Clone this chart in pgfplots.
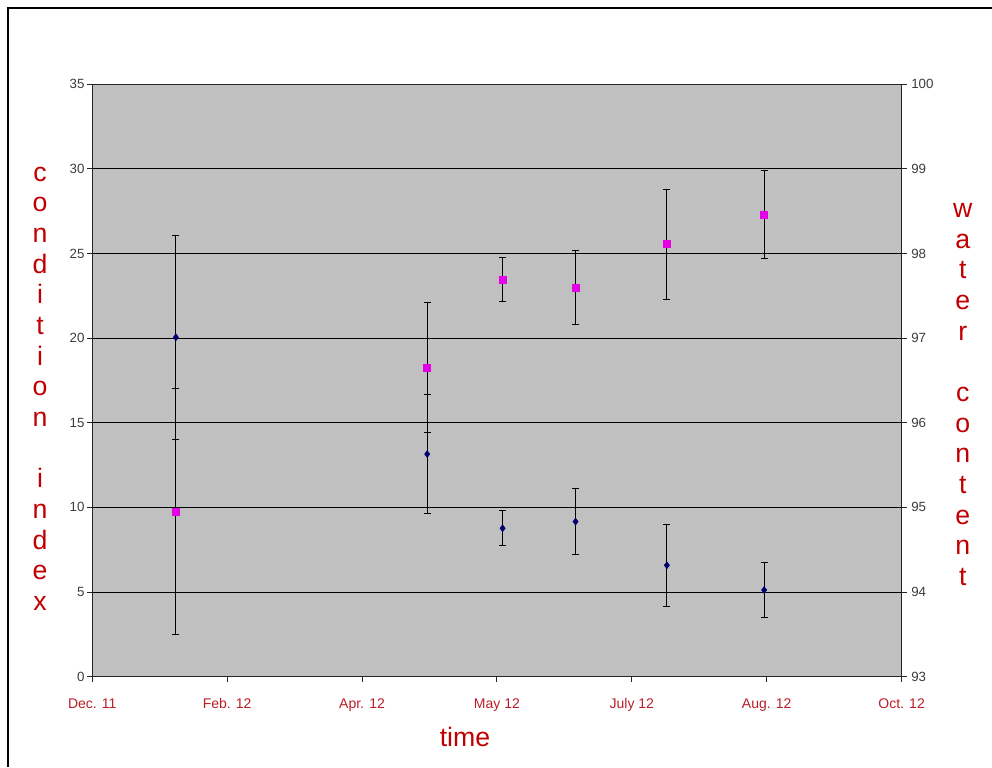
\documentclass[border=0pt]{standalone}
\usepackage{pgfplots}
\usepackage{pgfplotstable}
\pgfplotsset{compat=1.18}
\usepackage{fontspec}
\setmainfont{Liberation Sans}
\definecolor{plotgray}{RGB}{192,192,192}
\definecolor{labelred}{RGB}{192,0,0}
\definecolor{ticklabred}{RGB}{185,30,40}
\definecolor{navyblue}{RGB}{0,0,110}
\definecolor{mag}{RGB}{230,0,230}
\definecolor{ticktext}{RGB}{60,60,60}

\pgfplotstableread{
x y e
0.620 20.05 6.03
2.483 13.15 3.52
3.042 8.77 1.02
3.583 9.16 1.95
4.260 6.58 2.42
4.981 5.12 1.62
}\condtab

\pgfplotstableread{
x y e
0.620 94.95 1.45
2.483 96.65 0.77
3.042 97.69 0.26
3.583 97.60 0.435
4.260 98.11 0.65
4.981 98.46 0.52
}\watertab

\begin{document}
\begin{tikzpicture}
\path[use as bounding box] (-69.2pt,-67.8pt) rectangle (674.8pt,507.5pt);
\draw[line width=1.4pt] (-63.2pt,-67.8pt) -- (-63.2pt,501.5pt) -- (674.8pt,501.5pt);

\begin{axis}[
  scale only axis, width=607pt, height=444.3pt,
  xmin=0, xmax=6, ymin=0, ymax=35,
  xtick={0,1,2,3,4,5,6},
  xticklabels={Dec. 11, Feb. 12, Apr. 12, May 12, July 12, Aug. 12, Oct. 12},
  ytick={0,5,...,35},
  xtick pos=bottom, ytick pos=left,
  tick align=outside,
  major tick length=3.75pt,
  ymajorgrids,
  grid style={black, line width=0.75pt},
  axis background/.style={fill=plotgray},
  axis line style={black!85, line width=0.9pt},
  tick style={black!85, line width=0.75pt},
  /pgf/number format/assume math mode=true,
  x tick label style={font=\fontsize{10.5}{12}\selectfont, text=ticklabred,
    text height=7.6pt, text depth=2.2pt, yshift=-9pt},
  y tick label style={font=\fontsize{10}{12}\selectfont, text=ticktext, xshift=1.5pt},
  clip=false,
]
\addplot[only marks, mark=diamond*, mark size=2.6pt, color=navyblue,
  error bars/.cd, y dir=both, y explicit,
  error bar style={black, line width=0.75pt},
  error mark options={black, rotate=90, mark size=2.6pt, line width=0.8pt}]
  table[x=x, y=y, y error=e] {\condtab};
\node[align=center, font=\fontsize{20}{23}\selectfont, text=labelred]
  at (rel axis cs:-0.0646,0.486) {c\\o\\n\\d\\i\\t\\i\\o\\n\\\mbox{}\\i\\n\\d\\e\\x};
\node[font=\fontsize{20}{23}\selectfont, text=labelred]
  at (rel axis cs:0.4605,-0.1018) {time};
\node[align=center, font=\fontsize{20}{23}\selectfont, text=labelred]
  at (rel axis cs:1.0757,0.4760) {w\\a\\t\\e\\r\\\mbox{}\\c\\o\\n\\t\\e\\n\\t};
\end{axis}

\begin{axis}[
  scale only axis, width=607pt, height=444.3pt,
  xmin=0, xmax=6, ymin=93, ymax=100,
  axis y line*=right, axis x line=none,
  ytick={93,94,...,100},
  ytick pos=right,
  tick align=outside,
  major tick length=3.75pt,
  axis line style={black!85, line width=0.9pt},
  tick style={black!85, line width=0.75pt},
  /pgf/number format/assume math mode=true,
  y tick label style={font=\fontsize{10}{12}\selectfont, text=ticktext},
]
\addplot[only marks, mark=square*, mark size=2.6pt, color=mag,
  error bars/.cd, y dir=both, y explicit,
  error bar style={black, line width=0.75pt},
  error mark options={black, rotate=90, mark size=2.6pt, line width=0.8pt}]
  table[x=x, y=y, y error=e] {\watertab};
\end{axis}
\end{tikzpicture}
\end{document}
